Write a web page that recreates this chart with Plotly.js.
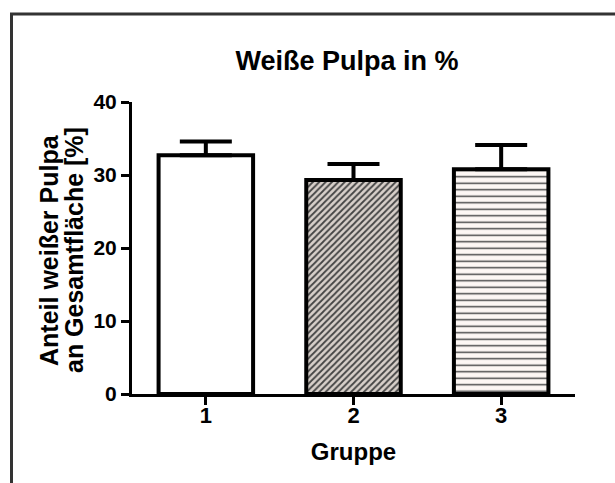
<!DOCTYPE html>
<html>
<head>
<meta charset="utf-8">
<script src="https://cdn.plot.ly/plotly-3.0.1.min.js"></script>
<style>
  html, body { margin: 0; padding: 0; background: #fff; }
  #chart { width: 615px; height: 483px; }
</style>
</head>
<body>
<div id="chart"></div>
<script>
// ---- data ----
const groups = ['1', '2', '3'];
const means = [32.7, 29.3, 30.8];
const sem = [1.9, 2.2, 3.3];
const yTicks = [0, 10, 20, 30, 40];

const titleText = 'Weiße Pulpa in %';
const xTitle = 'Gruppe';
const yTitleLines = ['Anteil weißer Pulpa', 'an Gesamtfläche [%]'];

// ---- layout constants ----
const W = 615, H = 483;
const M = { l: 132, r: 40, t: 102, b: 89 };
const pw = W - M.l - M.r, ph = H - M.t - M.b;
const px2x = p => (p - M.l) / pw;
const py2y = p => 1 - (p - M.t) / ph;

const font = 'Liberation Sans, Arial, sans-serif';
const bold = (size) => ({ family: font, size: size, color: '#000', weight: 'bold' });

const fills = ['#ffffff', '#d8d0ca', '#fdf7f4'];

const trace = {
  type: 'bar',
  x: groups,
  y: means,
  width: 0.64,
  marker: {
    color: fills,
    line: { color: '#000', width: 4 },
    pattern: {
      fillmode: 'overlay',
      shape: ['', '/', '-'],
      fgcolor: '#000000',
      fgopacity: 1,
      size: [8, 4.5, 6.5],
      solidity: [0.3, 0.4, 0.22]
    }
  },
  error_y: {
    type: 'data',
    array: sem,
    symmetric: false,
    arrayminus: [0, 0, 0],
    color: '#000',
    thickness: 4,
    width: 26
  },
  hoverinfo: 'none'
};

const layout = {
  width: W, height: H,
  margin: M,
  paper_bgcolor: '#fff',
  plot_bgcolor: '#fff',
  showlegend: false,
  title: {
    text: titleText,
    xref: 'container', yref: 'container',
    x: 347 / W, xanchor: 'center',
    y: 1 - 61 / H, yanchor: 'middle',
    font: bold(27)
  },
  xaxis: {
    type: 'category',
    range: [-0.5, 2.5],
    showline: true, linecolor: '#000', linewidth: 3,
    ticks: 'outside', ticklen: 8, tickwidth: 3, tickcolor: '#000',
    ticklabelstandoff: -8,
    showgrid: false, zeroline: false,
    tickfont: bold(22),
    title: { text: xTitle, standoff: 16, font: bold(24) }
  },
  yaxis: {
    range: [0, 40],
    tickvals: yTicks,
    showline: true, linecolor: '#000', linewidth: 3,
    ticks: 'outside', ticklen: 8, tickwidth: 3, tickcolor: '#000',
    showgrid: false, zeroline: false,
    tickfont: bold(21)
  },
  annotations: yTitleLines.map((t, i) => ({
    text: t,
    xref: 'paper', yref: 'paper',
    x: px2x([49, 74][i]), y: py2y(250),
    xanchor: 'center', yanchor: 'middle',
    textangle: -90,
    showarrow: false,
    font: bold(25)
  })),
  shapes: [
    { type: 'line', xref: 'paper', yref: 'paper',
      x0: px2x(11.5), x1: px2x(11.5), y0: py2y(13), y1: py2y(H + 5),
      line: { color: '#333', width: 3 } },
    { type: 'line', xref: 'paper', yref: 'paper',
      x0: px2x(10), x1: px2x(W + 5), y0: py2y(14), y1: py2y(14),
      line: { color: '#333', width: 3 } }
  ]
};

Plotly.newPlot('chart', [trace], layout, { staticPlot: true, displayModeBar: false });
</script>
</body>
</html>
